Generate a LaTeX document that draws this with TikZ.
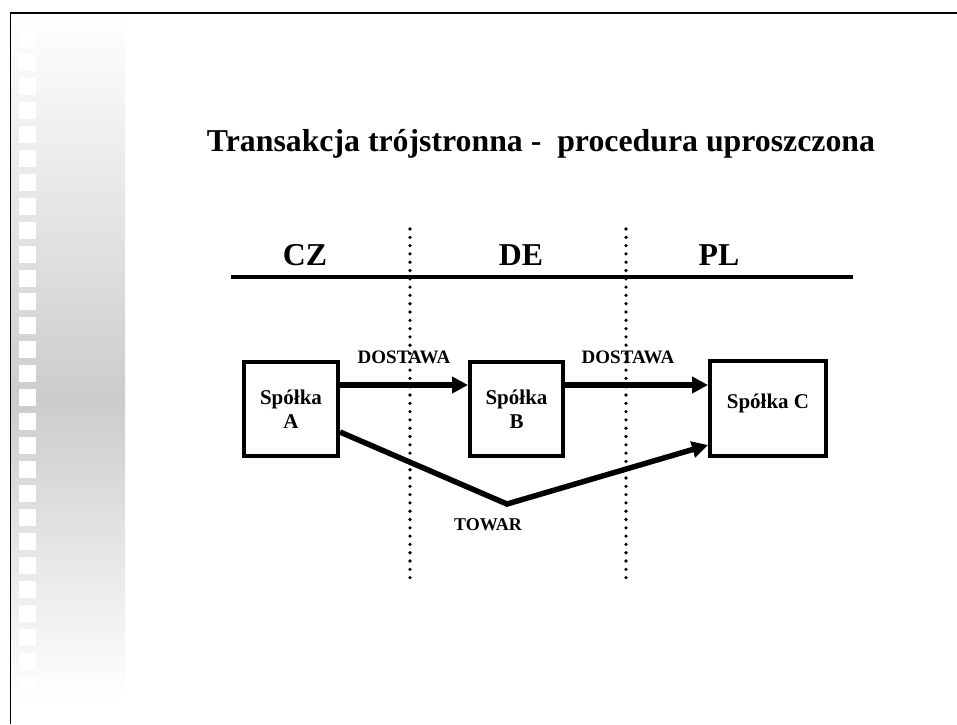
\documentclass[tikz,border=0pt]{standalone}
\usepackage{fontspec}
\setmainfont{Liberation Serif}
\usepackage{tikz}
\usetikzlibrary{arrows.meta,calc}

\begin{document}
\begin{tikzpicture}[x=1pt, y=-1pt, font=\bfseries,
    firma/.style={draw, line width=4pt, minimum width=94pt, minimum height=94pt,
        align=center, font=\bfseries\fontsize{21}{24}\selectfont},
    kraj/.style={anchor=base, font=\bfseries\fontsize{31.8}{36}\selectfont},
    opis/.style={anchor=base, font=\bfseries\fontsize{18}{21}\selectfont},
    przeplyw/.style={-{Triangle[length=16pt,width=16pt]}, line width=5.5pt},
    granica/.style={line width=3.6pt, line cap=round, dash pattern=on 0pt off 8.3pt}]
    \useasboundingbox (0,0) rectangle (957,724);
    \fill[white] (0,0) rectangle (957,724);

    % pasek z lewej
    \shade[top color=white, bottom color=black!20] (11,13) rectangle (125,400);
    \shade[top color=black!20, bottom color=white] (11,400) rectangle (125,700);
    \foreach \k in {0,...,28}
        \fill[white] (19,{30+23.95*\k}) rectangle ++(17,17);
    \draw[line width=1.5pt] (10.5,724) -- (10.5,13) -- (957,13);

    \node[kraj] (tytul) at (541,151)
        {Transakcja trójstronna -\ \ procedura uproszczona};

    \node[kraj] (cz) at (305,265) {CZ};
    \node[kraj] (de) at (521,265) {DE};
    \node[kraj] (pl) at (719,265) {PL};
    \draw[line width=4.5pt] (231,277) -- (853,277);

    \draw[granica] (410,229) -- (410,582);
    \draw[granica] (626,229) -- (626,582);

    \node[firma] (a) at (291,409) {Spółka\\A};
    \node[firma, minimum width=93pt] (b) at (516.5,409) {Spółka\\B};
    \node[firma, minimum width=116pt, minimum height=95pt, text height=14pt, text depth=15pt]
        (c) at (768,408.5) {Spółka C};

    \node[opis, font=\bfseries\fontsize{19}{21}\selectfont] (dost1) at (404,363) {DOSTAWA};
    \node[opis, font=\bfseries\fontsize{19}{21}\selectfont] (dost2) at (628,363) {DOSTAWA};
    \node[opis] (towar) at (488,530) {TOWAR};

    \draw[przeplyw] ([yshift=24pt]a.east) -- ([yshift=24pt]a.east -| b.west);
    \draw[przeplyw] ([yshift=24pt]b.east) -- ([yshift=24pt]b.east -| c.west);
    \coordinate (dol) at (507,504);
    \draw[przeplyw, line join=miter] ([yshift=-23pt]a.east) -- (dol) -- ([yshift=-36.5pt]c.west);
\end{tikzpicture}
\end{document}
